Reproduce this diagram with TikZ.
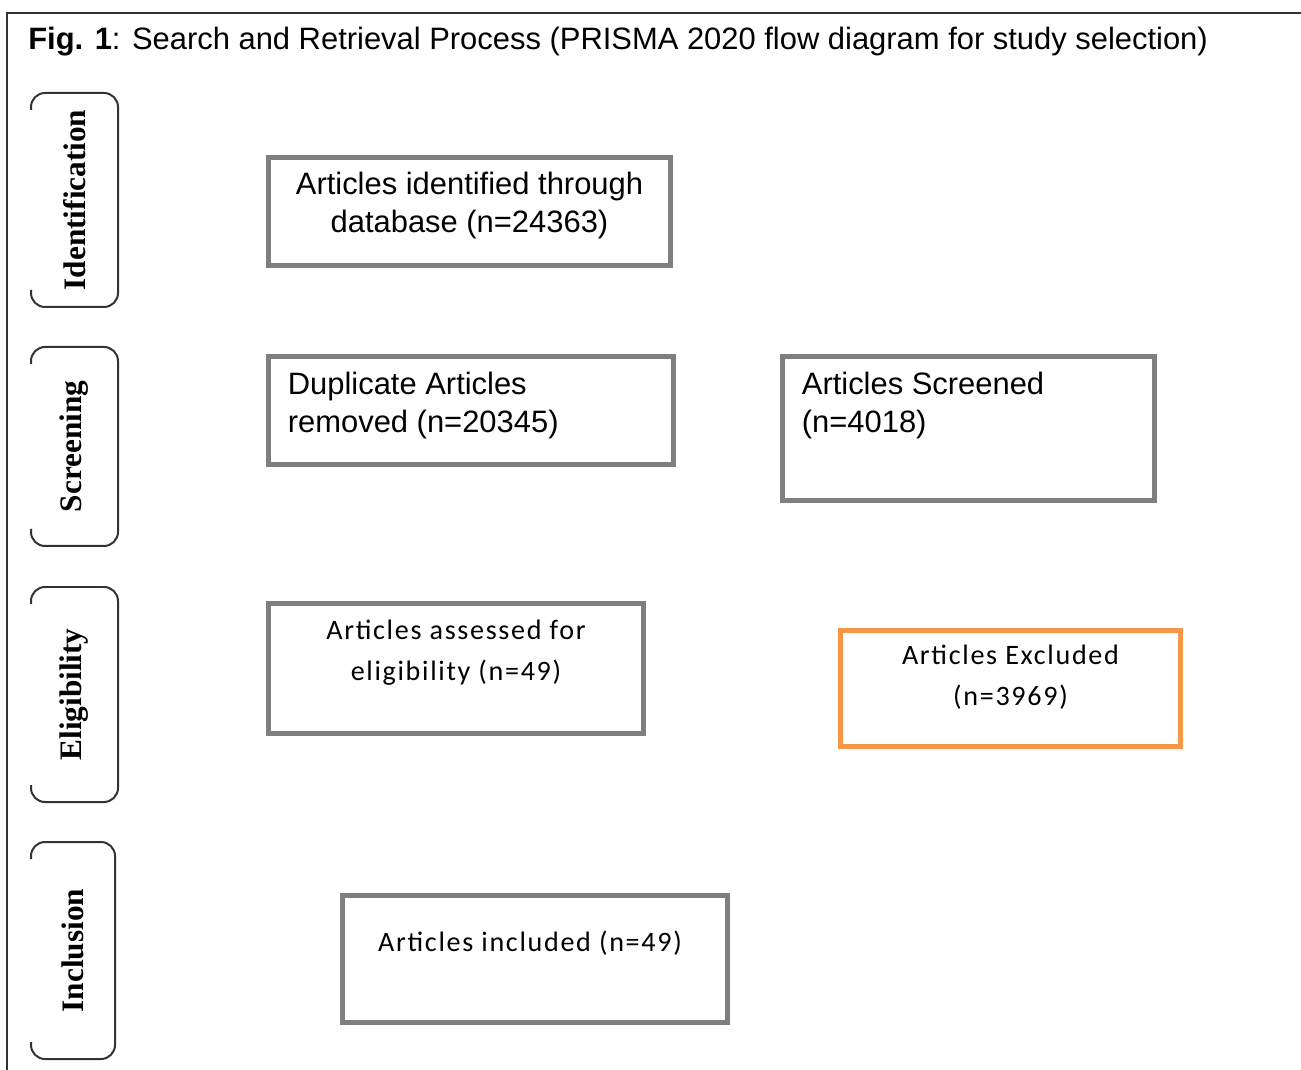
\documentclass[tikz,border=0pt]{standalone}
\usepackage{fontspec}
\usetikzlibrary{positioning}
\newfontfamily\arialfont{Liberation Sans}
\newfontfamily\calfont[LetterSpace=6]{Carlito}
\newfontfamily\timesfont{Liberation Serif}
\definecolor{boxgray}{HTML}{7F7F7F}
\definecolor{exclorange}{HTML}{F79646}
\definecolor{framegray}{HTML}{333333}
\begin{document}
\begin{tikzpicture}[x=0.02cm,y=-0.02cm,
  main box/.style={draw=boxgray,line width=0.1cm,inner sep=0pt},
  arial text/.style={font=\arialfont\fontsize{17.6}{21.5}\selectfont,inner sep=0pt},
  cal text/.style={font=\calfont\fontsize{16}{23.3}\selectfont,inner sep=0pt,align=center},
  stage box/.style={draw=framegray,line width=0.04cm,rounded corners=0.28cm},
  stage text/.style={font=\timesfont\bfseries\fontsize{17.8}{20}\selectfont,rotate=90,inner sep=0pt}]
  \useasboundingbox (0,0) rectangle (1301,1070);
  \draw[framegray,line width=0.04cm] (1301,13) -| (7,1070);
  \node[arial text,anchor=west] (title) at (28,42)
    {\textbf{Fig. 1}: Search and Retrieval Process (PRISMA 2020 flow diagram for study selection)};

  % stages
  \draw[stage box] (31,110) |- (118,93) |- (31,307) -- (31,290);
  \draw[stage box] (31,364) |- (118,347) |- (31,546) -- (31,529);
  \draw[stage box] (31,604) |- (118,587) |- (31,802) -- (31,785);
  \draw[stage box] (31,859) |- (115,842) |- (31,1059) -- (31,1042);
  \node[stage text] (identification) at (74.5,200) {Identification};
  \node[stage text] (screening) at (74.5,446.5) {Screening};
  \node[stage text] (eligibility) at (74.5,694.5) {Eligibility};
  \node[stage text] (inclusion) at (73,950.5) {Inclusion};

  % boxes
  \node[main box,minimum width=8.06cm,minimum height=2.18cm] (ident) at (469.5,211.5) {};
  \node[main box,minimum width=8.12cm,minimum height=2.18cm] (dup) at (471,410.5) {};
  \node[main box,minimum width=7.46cm,minimum height=2.90cm] (screen) at (968.5,428.5) {};
  \node[main box,minimum width=7.52cm,minimum height=2.62cm] (assess) at (456,668.5) {};
  \node[main box,draw=exclorange,minimum width=6.82cm,minimum height=2.34cm] (excl) at (1010.5,688.5) {};
  \node[main box,minimum width=7.72cm,minimum height=2.56cm] (incl) at (535,959) {};

  \node[arial text,align=center,below=0.34cm of ident.north] (identtext)
    {Articles identified through\\database (n=24363)};
  \node[arial text,align=left,below right=0.36cm and 0.44cm of dup.north west] (duptext)
    {Duplicate Articles\\removed (n=20345)};
  \node[arial text,align=left,below right=0.36cm and 0.44cm of screen.north west] (screentext)
    {Articles Screened\\(n=4018)};
  \node[cal text,below=0.38cm of assess.north] (assesstext)
    {Articles assessed for\\eligibility (n=49)};
  \node[cal text,below=0.34cm of excl.north] (excltext)
    {Articles Excluded\\(n=3969)};
  \node[cal text,below=0.76cm of incl.north,xshift=-0.1cm] (incltext)
    {Articles included (n=49)};
\end{tikzpicture}
\end{document}
